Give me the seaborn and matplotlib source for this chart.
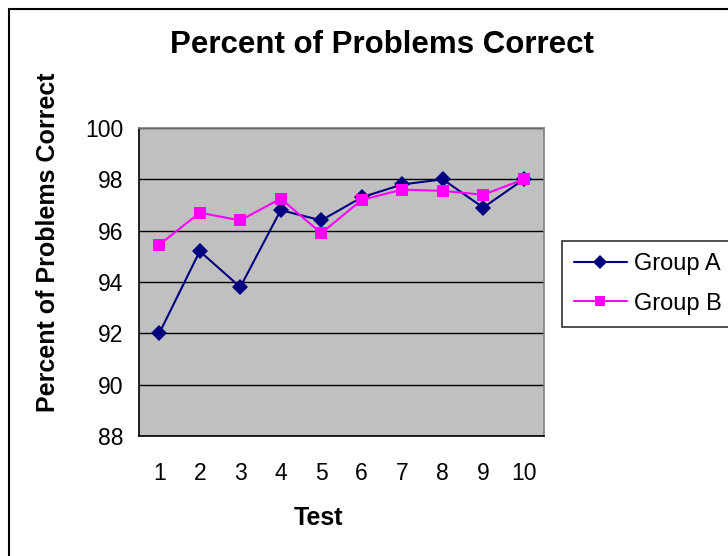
import matplotlib
matplotlib.use("Agg")
import matplotlib.pyplot as plt
import seaborn as sns
import pandas as pd
from matplotlib.patches import Rectangle
from matplotlib.lines import Line2D

tests = [1, 2, 3, 4, 5, 6, 7, 8, 9, 10]
group_a = [92.0, 95.2, 93.8, 96.8, 96.4, 97.3, 97.8, 98.0, 96.9, 98.0]
group_b = [95.45, 96.7, 96.4, 97.25, 95.9, 97.2, 97.6, 97.55, 97.4, 98.0]
series_names = ["Group A", "Group B"]
y_ticks = [88, 90, 92, 94, 96, 98, 100]

df = pd.DataFrame({
    "Test": tests * 2,
    "Value": group_a + group_b,
    "Group": [series_names[0]] * len(tests) + [series_names[1]] * len(tests),
})

sns.set_style("white")
plt.rcParams["font.family"] = ["Liberation Sans", "DejaVu Sans"]
for k in ["text.color", "axes.labelcolor", "xtick.color", "ytick.color"]:
    plt.rcParams[k] = "black"

W, H = 728, 556
fig = plt.figure(figsize=(7.28, 5.56), dpi=100)
fig.patches.append(Rectangle((9 / W, -0.1), 1.2, 1 - 9 / H + 0.1,
                             transform=fig.transFigure, fill=False,
                             edgecolor="black", linewidth=1.5, zorder=0))
ax = fig.add_axes([139 / W, 1 - 436 / H, (544 - 139) / W, (436 - 128) / H])
ax.set_facecolor("#C0C0C0")

palette = {"Group A": "#000080", "Group B": "#FF00FF"}
markers = {"Group A": "D", "Group B": "s"}
sns.lineplot(data=df, x="Test", y="Value", hue="Group", style="Group",
             palette=palette, markers=markers, dashes=False, ax=ax,
             markersize=8, linewidth=1.5, markeredgewidth=0, legend=False,
             zorder=3)

ax.set_xlim(0.5, 10.5)
ax.set_ylim(88, 100)
ax.set_yticks(y_ticks)
ax.set_yticklabels([str(t) for t in y_ticks], fontsize=16.5)
ax.set_xticks([t + 0.5 for t in tests[:-1]] + [0.5, 10.5])
ax.set_xticklabels([])
ax.set_xticks(tests, minor=True)
ax.set_xticklabels([str(t) for t in tests], minor=True, fontsize=16.5)
ax.tick_params(axis="x", which="minor", length=0, pad=18.5)
ax.tick_params(axis="x", which="major", length=7, width=1, color="black", direction="out")
ax.tick_params(axis="y", length=7, width=1, color="black", direction="out", pad=4)
ax.grid(axis="y", color="black", linewidth=1)
ax.grid(axis="x", visible=False)
ax.set_axisbelow(True)

for side in ["left", "bottom"]:
    ax.spines[side].set_color("black")
    ax.spines[side].set_linewidth(1.2)
for side in ["top", "right"]:
    ax.spines[side].set_color("#808080")
    ax.spines[side].set_linewidth(1.2)

ax.set_xlabel("")
ax.set_ylabel("")
fig.text(318 / W, 1 - 525 / H, "Test", fontsize=18, fontweight="bold",
         ha="center", va="baseline")
fig.text(48 / W, 1 - 242 / H, "Percent of Problems Correct", fontsize=18,
         fontweight="bold", ha="center", va="center", rotation=90)
fig.text(382 / W, 1 - 53 / H, "Percent of Problems Correct", fontsize=22.5,
         fontweight="bold", ha="center", va="baseline")

handles = [Line2D([], [], color=palette[n], marker=markers[n], markersize=7,
                  markeredgewidth=0, linewidth=1.5) for n in series_names]
leg = fig.legend(handles, series_names, loc="upper left",
                 bbox_to_anchor=(562 / W, 1 - 241 / H),
                 bbox_transform=fig.transFigure, fontsize=17, frameon=True,
                 fancybox=False, edgecolor="black", handlelength=2.25,
                 handletextpad=0.3, borderpad=0.5, labelspacing=0.76,
                 borderaxespad=0)
leg.get_frame().set_linewidth(1.2)

fig.savefig("out.png", dpi=100)
